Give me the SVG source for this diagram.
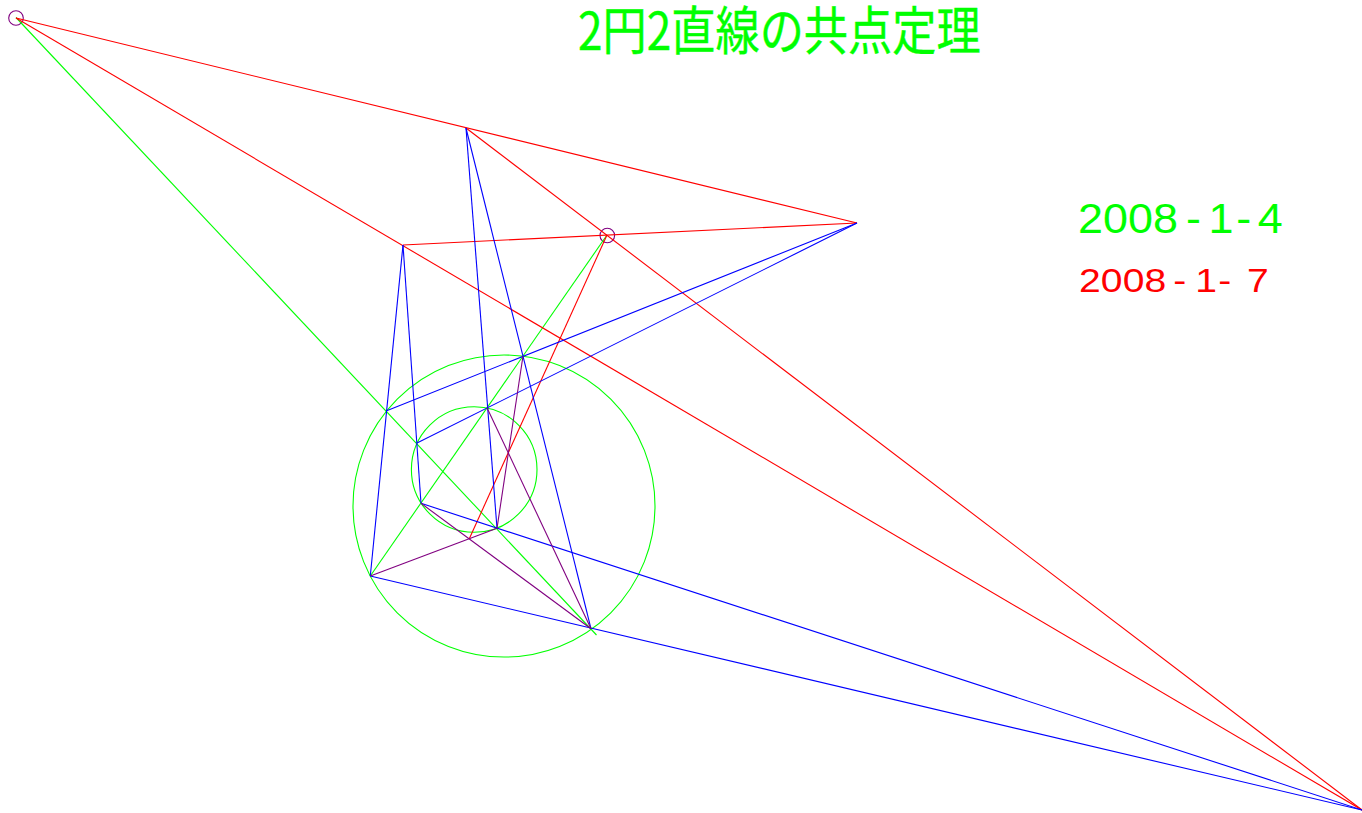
<svg xmlns="http://www.w3.org/2000/svg" width="1362" height="813" viewBox="0 0 1362 813">
<style>
.r{stroke:#f00}.b{stroke:#00f}.g{stroke:#0f0}.p{stroke:#800080}
line,circle{fill:none;stroke-width:1.1}
.title{font-family:"Noto Sans CJK JP","Liberation Sans",sans-serif;fill:#0f0;stroke:#0f0;stroke-width:0.4}
.date{font-family:"Liberation Sans",sans-serif}
</style>
<rect width="1362" height="813" fill="#fff"/>
<g id="circles">
<circle class="g" cx="504" cy="506" r="151"/>
<circle class="g" cx="474.2" cy="469.5" r="62.8"/>
<circle class="p" cx="16" cy="18" r="7.3"/>
<circle class="p" cx="607.3" cy="235.5" r="7.3"/>
</g>
<g id="connectors">
<line class="g" x1="16" y1="17.5" x2="596.5" y2="635"/>
<line class="g" x1="607" y1="235" x2="370.3" y2="576"/>
<line class="r" x1="16" y1="18" x2="857" y2="223"/>
<line class="r" x1="16" y1="18" x2="1362" y2="810"/>
<line class="r" x1="403" y1="245" x2="857" y2="223"/>
<line class="r" x1="466" y1="128" x2="1362" y2="810"/>
<line class="r" x1="607" y1="235" x2="469.3" y2="538.7"/>
<line class="b" x1="466" y1="128" x2="497" y2="528.3"/>
<line class="b" x1="466" y1="128" x2="591" y2="628.7"/>
<line class="b" x1="403" y1="245" x2="370.3" y2="576"/>
<line class="b" x1="403" y1="245" x2="421" y2="503.3"/>
<line class="b" x1="386.7" y1="410.7" x2="857" y2="223"/>
<line class="b" x1="417" y1="443" x2="857" y2="223"/>
<line class="b" x1="370.3" y1="576" x2="1362" y2="810"/>
<line class="b" x1="421" y1="503.3" x2="1362" y2="810"/>
<line class="p" x1="370.3" y1="576" x2="497" y2="528.3"/>
<line class="p" x1="421" y1="503.3" x2="591" y2="628.7"/>
<line class="p" x1="487" y1="407.7" x2="591" y2="628.7"/>
<line class="p" x1="523" y1="356" x2="497" y2="528.3"/>
</g>
<g id="title">
<text class="title" transform="translate(578,50) scale(0.85,1)" font-size="52">2円2直線の共点定理</text>
</g>
<g id="dates">
<text class="date" fill="#0f0" transform="translate(1078,233) scale(1.07,1)" font-size="42" x="0 23.4 46.8 70.2 101 122 148 168">2008-1-4</text>
<text class="date" fill="#f00" transform="translate(1079,291.7) scale(1.15,1)" font-size="34" x="0 19 38 57 82 101 121 140 146">2008-1- 7</text>
</g>
</svg>
